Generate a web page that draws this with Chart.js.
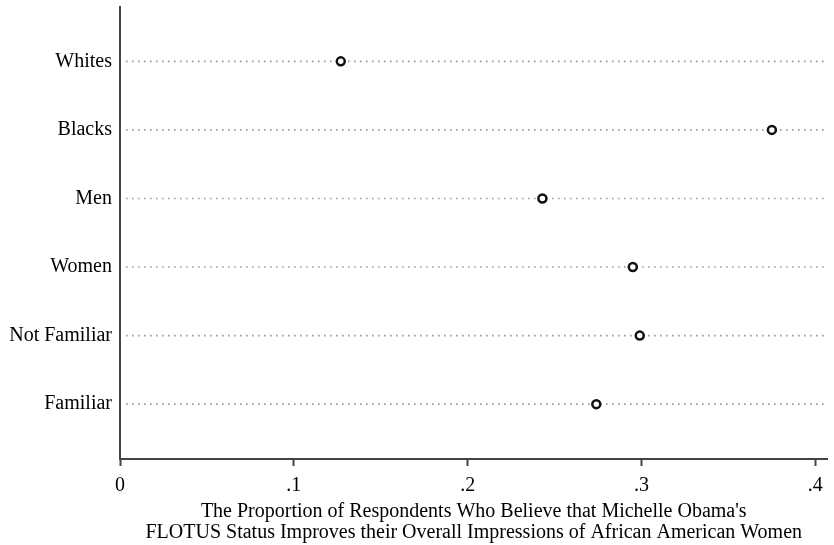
<!DOCTYPE html>
<html>
<head>
<meta charset="utf-8">
<script src="https://cdn.jsdelivr.net/npm/chart.js@4/dist/chart.umd.min.js"></script>
<style>
  html, body { margin: 0; padding: 0; background: #fff; }
  #wrap { width: 834px; height: 545px; }
</style>
</head>
<body>
<div id="wrap"><canvas id="c" width="834" height="545"></canvas></div>
<script>
    // datos
    const categories = ['Whites', 'Blacks', 'Men', 'Women', 'Not Familiar', 'Familiar'];
    const proportions = [0.127, 0.375, 0.243, 0.295, 0.299, 0.274];
    const xTicks = [0, 0.1, 0.2, 0.3, 0.4];
    const xTickLabels = ['0', '.1', '.2', '.3', '.4'];
    const xTitle = [
        "The Proportion of Respondents Who Believe that Michelle Obama's",
        'FLOTUS Status Improves their Overall Impressions of African American Women'
    ];

    const points = categories.map((c, i) => ({ x: proportions[i], y: i + 1 }));
    const serif = '"Liberation Serif", "Times New Roman", serif';

    new Chart(document.getElementById('c'), {
        type: 'scatter',
        data: {
            datasets: [{
                data: points,
                pointStyle: 'circle',
                pointRadius: 4,
                pointBorderWidth: 2.5,
                pointBorderColor: '#111',
                pointBackgroundColor: '#fff'
            }]
        },
        options: {
            responsive: false,
            animation: false,
            layout: { padding: { top: 6, right: 6, left: 0, bottom: 0 } },
            scales: {
                x: {
                    type: 'linear',
                    min: 0,
                    max: 0.407,
                    afterBuildTicks: axis => { axis.ticks = xTicks.map(v => ({ value: v })); },
                    afterFit: axis => { axis.height = 86; },
                    border: { color: '#444', width: 2 },
                    grid: { drawOnChartArea: false, drawTicks: true, tickLength: 7, tickWidth: 2, tickColor: '#444' },
                    ticks: {
                        color: '#000',
                        font: { family: serif, size: 20 },
                        padding: 8,
                        callback: (v) => xTickLabels[xTicks.indexOf(v)] ?? ''
                    },
                    title: {
                        display: true,
                        text: xTitle,
                        color: '#000',
                        font: { family: serif, size: 20, lineHeight: 1.05 },
                        padding: { top: 2, bottom: 2 }
                    }
                },
                y: {
                    type: 'linear',
                    reverse: true,
                    min: 0.2,
                    max: 6.8,
                    afterBuildTicks: axis => { axis.ticks = categories.map((c, i) => ({ value: i + 1 })); },
                    afterFit: axis => {
                        axis.width = 120;
                        axis.paddingTop = 0;
                        axis.paddingBottom = 0;
                    },
                    border: { color: '#444', width: 2 },
                    grid: { display: false, drawTicks: false },
                    ticks: {
                        color: '#000',
                        font: { family: serif, size: 20 },
                        padding: 8,
                        callback: (v) => categories[v - 1] ?? ''
                    }
                }
            },
            plugins: {
                legend: { display: false },
                tooltip: { enabled: false }
            }
        },
        plugins: [{
            // lineas punteadas horizontales
            id: 'dots',
            beforeDatasetsDraw(chart) {
                const { ctx, chartArea, scales } = chart;
                ctx.save();
                ctx.strokeStyle = '#999';
                ctx.lineWidth = 1.6;
                ctx.setLineDash([1.6, 4.4]);
                categories.forEach((c, i) => {
                    const y = scales.y.getPixelForValue(i + 1);
                    ctx.beginPath();
                    ctx.moveTo(chartArea.left + 6, y);
                    ctx.lineTo(chartArea.right, y);
                    ctx.stroke();
                });
                ctx.restore();
            }
        }]
    });
</script>
</body>
</html>
